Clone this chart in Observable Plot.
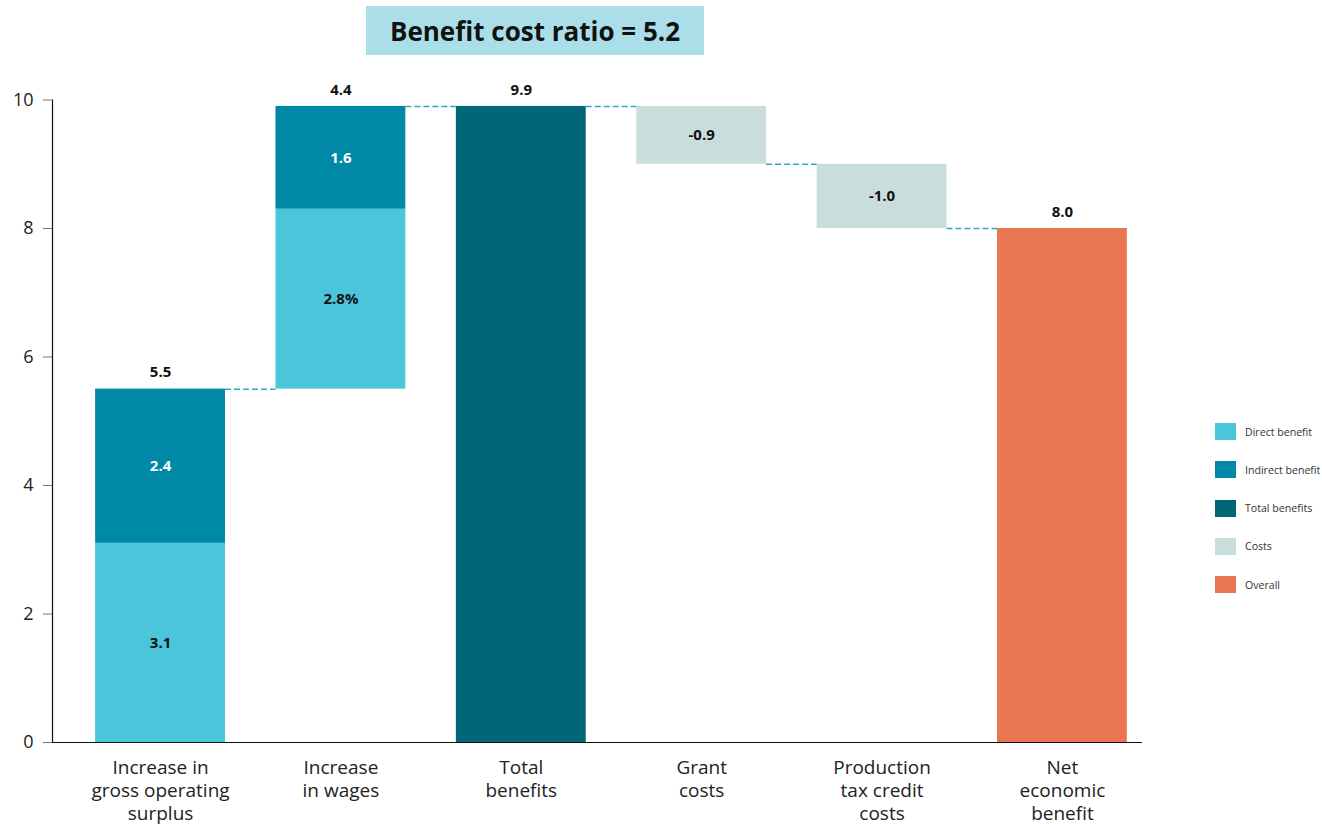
<!DOCTYPE html>
<html>
<head>
<meta charset="utf-8">
<script src="https://cdn.jsdelivr.net/npm/d3@7"></script>
<script src="https://cdn.jsdelivr.net/npm/@observablehq/plot@0.6"></script>
<style>
  html, body { margin: 0; padding: 0; background: #fff; font-family: "Open Sans", sans-serif; }
  #wrap { position: relative; width: 1322px; height: 825px; }
  #title { position: absolute; left: 366px; top: 6px; width: 338px; height: 49px;
           background: #aadfe9; color: #111; font-weight: 700; font-size: 26px;
           display: flex; align-items: center; justify-content: center; }
  #row { position: absolute; left: 0; top: 60px; display: flex; }
  #legend { padding-top: 363px; margin-left: 15px; }
  .item { display: flex; align-items: center; height: 17px; margin-bottom: 21.3px; }
  .sw { width: 21px; height: 17px; margin-right: 9px; }
  .lab { font-size: 10.6px; color: #333; white-space: nowrap; }
</style>
</head>
<body>
<div id="wrap">
  <div id="title">Benefit cost ratio = 5.2</div>
  <div id="row"><div id="chart"></div><div id="legend"></div></div>
</div>
<script>
// ---- data ----
const categories = ["Increase in\ngross operating\nsurplus", "Increase\nin wages", "Total\nbenefits", "Grant\ncosts", "Production\ntax credit\ncosts", "Net\neconomic\nbenefit"];
const directBenefit = [3.1, 2.8];           // GOS, wages
const directLabels = ["3.1", "2.8%"];
const indirectBenefit = [2.4, 1.6];          // GOS, wages
const indirectLabels = ["2.4", "1.6"];
const totalBenefits = 9.9;
const costs = [-0.9, -1.0];                  // grant, production tax credit
const costLabels = ["-0.9", "-1.0"];
const netBenefit = 8.0;
const seriesNames = ["Direct benefit", "Indirect benefit", "Total benefits", "Costs", "Overall"];
const seriesColors = ["#4ac5da", "#0088a7", "#006678", "#cadddd", "#ea7752"];

// ---- build waterfall ----
const segs = [], inside = [], tops = [], links = [];
let run = 0;
for (let k = 0; k < 2; k++) {
  const base = run;
  const a = base + directBenefit[k], b = a + indirectBenefit[k];
  segs.push({i: k, y1: base, y2: a, s: "Direct benefit"});
  segs.push({i: k, y1: a, y2: b, s: "Indirect benefit"});
  inside.push({i: k, y: (base + a) / 2, t: directLabels[k], c: "#111"});
  inside.push({i: k, y: (a + b) / 2, t: indirectLabels[k], c: "#fff"});
  tops.push({i: k, y: b, t: (b - base).toFixed(1)});
  run = b;
}
segs.push({i: 2, y1: 0, y2: totalBenefits, s: "Total benefits"});
tops.push({i: 2, y: totalBenefits, t: totalBenefits.toFixed(1)});
run = totalBenefits;
for (let k = 0; k < 2; k++) {
  const i = 3 + k, a = run, b = run + costs[k];
  segs.push({i, y1: b, y2: a, s: "Costs"});
  inside.push({i, y: (a + b) / 2, t: costLabels[k], c: "#111"});
  run = b;
}
segs.push({i: 5, y1: 0, y2: netBenefit, s: "Overall"});
tops.push({i: 5, y: netBenefit, t: netBenefit.toFixed(1)});

// connectors: level at top-of-flow between consecutive bars
const levels = [directBenefit[0] + indirectBenefit[0], totalBenefits, totalBenefits, totalBenefits + costs[0], netBenefit];
levels.forEach((y, i) => links.push({i, y}));

const halfW = 0.36;
const xDomain = [-0.599, 5.444];

const chart = Plot.plot({
  width: 1200, height: 765,
  marginTop: 39.5, marginBottom: 83, marginLeft: 52, marginRight: 58,
  style: {fontFamily: "Open Sans", fontSize: "18px", color: "#222", background: "white", overflow: "visible"},
  x: {domain: xDomain, axis: null},
  y: {domain: [0, 10], axis: null},
  color: {domain: seriesNames, range: seriesColors},
  marks: [
    Plot.rect(segs, {x1: d => d.i - halfW, x2: d => d.i + halfW, y1: "y1", y2: "y2", fill: "s"}),
    Plot.ruleY(links, {x1: d => d.i + halfW, x2: d => d.i + 1 - halfW, y: "y", stroke: "#2ea8c4", strokeWidth: 1.5, strokeDasharray: "6,3"}),
    Plot.text(inside, {x: "i", y: "y", text: "t", fill: "c", fontWeight: 700, fontSize: 15}),
    Plot.text(tops, {x: "i", y: "y", text: "t", dy: -16.5, fill: "#111", fontWeight: 700, fontSize: 15}),
    Plot.ruleY([0], {stroke: "#111", strokeWidth: 1.2}),
    Plot.ruleX([xDomain[0]], {stroke: "#111", strokeWidth: 1.2}),
    Plot.axisY({ticks: [0, 2, 4, 6, 8, 10], tickSize: 9, tickPadding: 10, stroke: "#777", fill: "#222", fontSize: 18, label: null}),
    Plot.axisX({ticks: d3.range(categories.length), tickFormat: i => categories[i], tickSize: 0, tickPadding: 15, lineHeight: 1.21, fontSize: 19, fill: "#222", label: null})
  ]
});
document.getElementById("chart").appendChild(chart);

const legend = document.getElementById("legend");
seriesNames.forEach((n, k) => {
  const it = document.createElement("div"); it.className = "item";
  const sw = document.createElement("div"); sw.className = "sw"; sw.style.background = seriesColors[k];
  const lb = document.createElement("div"); lb.className = "lab"; lb.textContent = n;
  it.appendChild(sw); it.appendChild(lb); legend.appendChild(it);
});
</script>
</body>
</html>
